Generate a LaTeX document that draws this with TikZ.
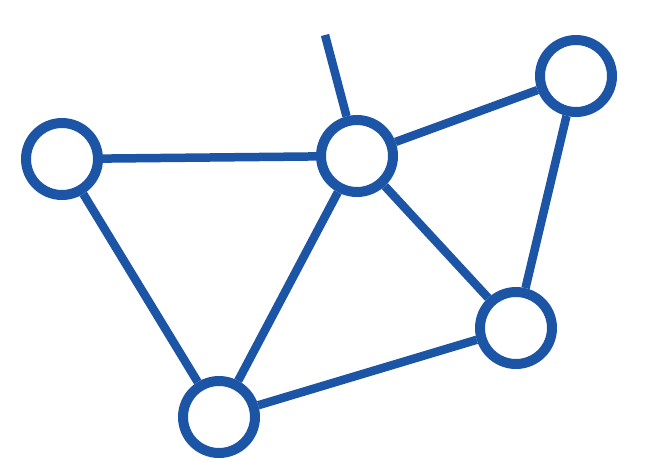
\documentclass[tikz,border=0pt]{standalone}
\definecolor{netblue}{HTML}{1D55A6}
\begin{document}
\begin{tikzpicture}[x=1pt,y=-1pt,
  hub/.style={circle,draw=netblue,line width=10pt,fill=white,minimum size=72pt,inner sep=0pt},
  link/.style={draw=netblue,line width=8.5pt}]
\useasboundingbox (0,0) rectangle (650,461);
\coordinate (free) at (325,35);
\node[hub] (L) at (62,159) {};
\node[hub] (C) at (357,156) {};
\node[hub] (TR) at (576,76) {};
\node[hub] (BR) at (516,328) {};
\node[hub] (B) at (219,417) {};
\draw[link] (free) -- (C);
\draw[link] (L) -- (C);
\draw[link] (L) -- (B);
\draw[link] (C) -- (B);
\draw[link] (C) -- (TR);
\draw[link] (C) -- (BR);
\draw[link] (TR) -- (BR);
\draw[link] (BR) -- (B);
\end{tikzpicture}
\end{document}
